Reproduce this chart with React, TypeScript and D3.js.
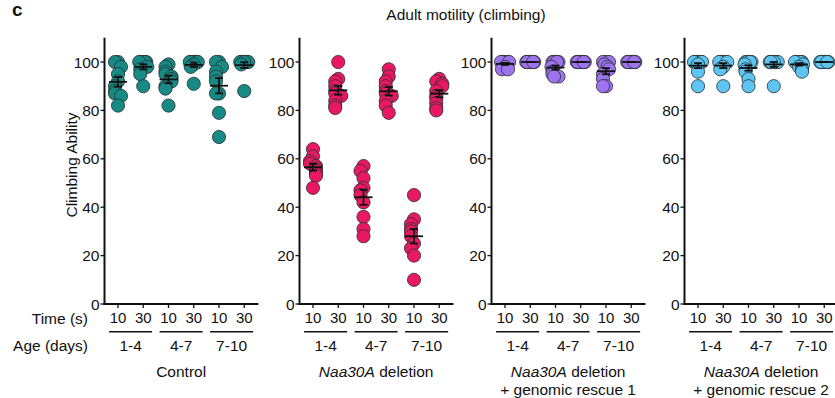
import React from "react";
import * as d3 from "d3";

const timeLabels = ["10", "30", "10", "30", "10", "30"];
const ageLabels = ["1-4", "4-7", "7-10"];
const yTicks = [0, 20, 40, 60, 80, 100];

const controlValues = [
  [100, 100, 98, 95, 92, 90, 88, 87, 86, 82],
  [100, 100, 100, 100, 100, 100, 98, 97, 95, 90],
  [99, 98, 96, 95, 94, 93, 92, 90, 89, 82],
  [100, 100, 100, 100, 100, 100, 100, 99, 98, 91],
  [100, 100, 98, 96, 94, 92, 87, 87, 79, 69],
  [100, 100, 100, 100, 100, 100, 100, 100, 99, 88],
];
const deletionValues = [
  [64, 61, 59, 58, 57, 56, 55, 54, 53, 48],
  [100, 93, 92, 90, 88, 87, 86, 84, 82, 81],
  [57, 55, 52, 48, 47, 45, 42, 36, 31, 28],
  [97, 94, 92, 90, 88, 87, 86, 84, 82, 79],
  [45, 35, 33, 31, 30, 28, 25, 23, 20, 10],
  [93, 92, 91, 90, 88, 86, 85, 83, 81, 80],
];
const rescue1Values = [
  [100, 100, 100, 100, 100, 100, 100, 98, 97, 97],
  [100, 100, 100, 100, 100, 100, 100, 100, 100, 100],
  [100, 100, 100, 100, 100, 98, 96, 95, 94, 94],
  [100, 100, 100, 100, 100, 100, 100, 100, 100, 100],
  [100, 100, 100, 99, 98, 97, 95, 93, 90, 90],
  [100, 100, 100, 100, 100, 100, 100, 100, 100, 100],
];
const rescue2Values = [
  [100, 100, 100, 100, 100, 100, 100, 99, 96, 90],
  [100, 100, 100, 100, 100, 100, 100, 98, 97, 90],
  [100, 100, 100, 100, 100, 99, 97, 96, 93, 90],
  [100, 100, 100, 100, 100, 100, 100, 100, 100, 90],
  [100, 100, 100, 100, 100, 100, 99, 98, 97, 96],
  [100, 100, 100, 100, 100, 100, 100, 100, 100, 100],
];

const panels = [
  { values: controlValues, color: "#178a86", italic: "", rest: "Control", line2: "" },
  { values: deletionValues, color: "#ea1862", italic: "Naa30A", rest: " deletion", line2: "" },
  { values: rescue1Values, color: "#a073ee", italic: "Naa30A", rest: " deletion", line2: "+ genomic rescue 1" },
  { values: rescue2Values, color: "#5ec5f2", italic: "Naa30A", rest: " deletion", line2: "+ genomic rescue 2" },
];

const panelLefts = [104.5, 299.5, 491.5, 684.5];
const FONT = "Liberation Sans, Arial, Helvetica, sans-serif";

const y = d3.scaleLinear().domain([0, 110]).range([304, 37.8]);

function swarm(vals: number[]) {
  const sorted = [...vals].sort((a, b) => b - a);
  const pattern = [0, -3, 3, -1.5, 1.5, -4, 4];
  const placed: { v: number; dx: number }[] = [];
  sorted.forEach((v) => {
    const py = y(v);
    const near = placed.filter((p) => Math.abs(y(p.v) - py) < 7).length;
    placed.push({ v, dx: pattern[near % pattern.length] });
  });
  return placed;
}

function Panel({ idx }: { idx: number }) {
  const p = panels[idx];
  const left = panelLefts[idx];
  const x = d3.scaleLinear().domain([0, 5]).range([left + 13.5, left + 13.5 + 5 * 25.25]);
  const right = left + 154;
  const center = (x(0) + x(5)) / 2;
  return (
    <g>
      <line x1={left} x2={left} y1={y(110)} y2={y(0) + 1} stroke="#111" strokeWidth={2} />
      <line x1={left - 1} x2={right} y1={y(0)} y2={y(0)} stroke="#111" strokeWidth={2} />
      {yTicks.map((t) => (
        <g key={t}>
          <line x1={left - 4} x2={left} y1={y(t)} y2={y(t)} stroke="#111" strokeWidth={1.3} />
          <text x={left - 5} y={y(t) + 5.5} textAnchor="end" fontSize={15.5} fontFamily={FONT} fill="#111">
            {t}
          </text>
        </g>
      ))}
      {timeLabels.map((t, i) => (
        <g key={i}>
          <line x1={x(i)} x2={x(i)} y1={y(0)} y2={y(0) + 4} stroke="#111" strokeWidth={1.3} />
          <text x={x(i)} y={323} textAnchor="middle" fontSize={15} fontFamily={FONT} fill="#111">
            {t}
          </text>
        </g>
      ))}
      {ageLabels.map((a, g) => {
        const c = (x(2 * g) + x(2 * g + 1)) / 2;
        return (
          <g key={a}>
            <line x1={c - 21.5} x2={c + 21.5} y1={331.7} y2={331.7} stroke="#111" strokeWidth={1.6} />
            <text x={c} y={350.5} textAnchor="middle" fontSize={15.5} fontFamily={FONT} fill="#111">
              {a}
            </text>
          </g>
        );
      })}
      <text x={center} y={376.5} textAnchor="middle" fontSize={15.5} fontFamily={FONT} fill="#111">
        {p.italic ? <tspan fontStyle="italic">{p.italic}</tspan> : null}
        <tspan>{p.rest}</tspan>
      </text>
      {p.line2 ? (
        <text x={center} y={395} textAnchor="middle" fontSize={15.5} fontFamily={FONT} fill="#111">
          {p.line2}
        </text>
      ) : null}
      {p.values.map((vals, i) => {
        const pts = swarm(vals);
        return (
          <g key={i}>
            {pts.map((pt, j) => (
              <circle
                key={j}
                cx={x(i) + pt.dx}
                cy={y(pt.v)}
                r={6.6}
                fill={p.color}
                stroke="#263232"
                strokeOpacity={0.9}
                strokeWidth={0.9}
              />
            ))}
          </g>
        );
      })}
      {p.values.map((vals, i) => {
        const m = d3.mean(vals) as number;
        const sd = (d3.deviation(vals) as number) || 0;
        const sem = sd / Math.sqrt(vals.length);
        const cx = x(i);
        return (
          <g key={"m" + i} stroke="#111" strokeWidth={1.8}>
            <line x1={cx - 9} x2={cx + 9} y1={y(m)} y2={y(m)} />
            <line x1={cx} x2={cx} y1={y(m + sem)} y2={y(m - sem)} />
            <line x1={cx - 4} x2={cx + 4} y1={y(m + sem)} y2={y(m + sem)} />
            <line x1={cx - 4} x2={cx + 4} y1={y(m - sem)} y2={y(m - sem)} />
          </g>
        );
      })}
    </g>
  );
}

export default function App() {
  return (
    <svg width={835} height={398} style={{ position: "absolute", left: 0, top: 0, background: "#fff" }}>
      <rect x={0} y={0} width={835} height={398} fill="#fff" />
      <text x={12} y={16} fontSize={19} fontWeight="bold" fontFamily={FONT} fill="#111">
        c
      </text>
      <text x={466} y={20} textAnchor="middle" fontSize={15.5} fontFamily={FONT} fill="#111">
        Adult motility (climbing)
      </text>
      <text
        transform="translate(77,165) rotate(-90)"
        textAnchor="middle"
        fontSize={15.5}
        fontFamily={FONT}
        fill="#111"
      >
        Climbing Ability
      </text>
      <text x={88} y={323.5} textAnchor="end" fontSize={15.5} fontFamily={FONT} fill="#111">
        Time (s)
      </text>
      <text x={88} y={350.5} textAnchor="end" fontSize={15.5} fontFamily={FONT} fill="#111">
        Age (days)
      </text>
      {panels.map((_, i) => (
        <Panel key={i} idx={i} />
      ))}
    </svg>
  );
}
